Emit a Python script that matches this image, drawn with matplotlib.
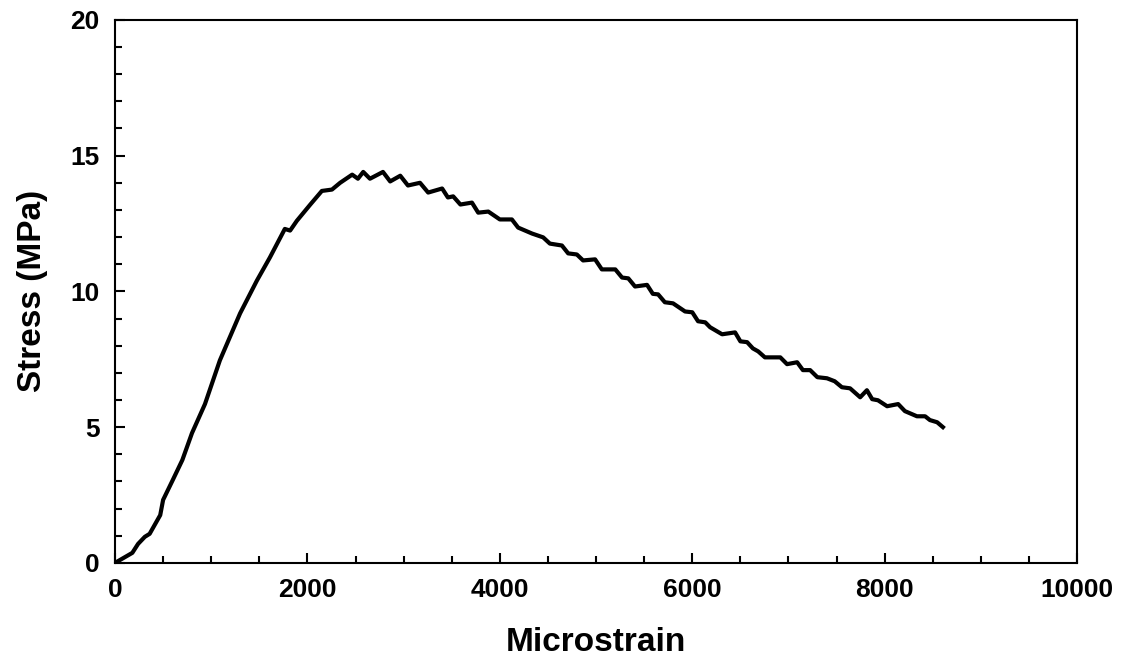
import matplotlib.pyplot as plt
from matplotlib.ticker import MultipleLocator

# Stress-strain data
strain = [0, 180, 240, 310, 360, 470, 500, 600, 700, 800, 935, 1090, 1300, 1475,
          1610, 1765, 1820, 1890, 2030, 2150, 2255, 2340, 2465, 2525, 2580, 2650,
          2785, 2860, 2965, 3045, 3170, 3255, 3400, 3460, 3515, 3590, 3710, 3775,
          3880, 4000, 4125, 4190, 4335, 4450, 4520, 4645, 4710, 4800, 4865, 4990,
          5060, 5200, 5270, 5335, 5405, 5530, 5590, 5645, 5715, 5800, 5925, 6000,
          6060, 6135, 6185, 6310, 6445, 6500, 6570, 6630, 6685, 6755, 6915, 6985,
          7090, 7150, 7225, 7300, 7400, 7480, 7555, 7640, 7745, 7815, 7870, 7930,
          8025, 8140, 8210, 8335, 8420, 8470, 8545, 8605]
stress = [0.0, 0.37, 0.70, 0.96, 1.07, 1.76, 2.32, 3.05, 3.79, 4.78, 5.85, 7.46,
          9.19, 10.4, 11.25, 12.3, 12.24, 12.6, 13.2, 13.7, 13.75, 14.0, 14.3,
          14.15, 14.4, 14.15, 14.4, 14.05, 14.26, 13.9, 14.0, 13.64, 13.79, 13.46,
          13.5, 13.2, 13.27, 12.9, 12.94, 12.65, 12.65, 12.35, 12.13, 11.99, 11.76,
          11.69, 11.4, 11.36, 11.14, 11.18, 10.81, 10.81, 10.51, 10.48, 10.18,
          10.24, 9.91, 9.89, 9.6, 9.56, 9.26, 9.23, 8.9, 8.86, 8.68, 8.42, 8.49,
          8.16, 8.13, 7.9, 7.79, 7.57, 7.57, 7.32, 7.39, 7.1, 7.1, 6.84, 6.8, 6.69,
          6.47, 6.43, 6.1, 6.36, 6.03, 5.99, 5.77, 5.85, 5.59, 5.4, 5.4, 5.26,
          5.18, 5.0]

plt.rcParams['font.family'] = ['Liberation Sans', 'DejaVu Sans']

fig = plt.figure(figsize=(11.22, 6.63), dpi=100)
ax = fig.add_axes([0.1025, 0.151, 0.8575, 0.819])

ax.plot(strain, stress, color='black', linewidth=3.0, solid_joinstyle='round')

ax.set_xlim(0, 10000)
ax.set_ylim(0, 20)
ax.xaxis.set_major_locator(MultipleLocator(2000))
ax.xaxis.set_minor_locator(MultipleLocator(500))
ax.yaxis.set_major_locator(MultipleLocator(5))
ax.yaxis.set_minor_locator(MultipleLocator(1))
ax.tick_params(which='both', direction='in', width=1.5)
ax.tick_params(which='major', length=7, labelsize=19)
ax.tick_params(axis='x', which='major', pad=11)
ax.tick_params(axis='y', which='major', pad=11)
ax.tick_params(which='minor', length=5)
for lab in ax.get_xticklabels() + ax.get_yticklabels():
    lab.set_fontweight('bold')
for s in ax.spines.values():
    s.set_linewidth(1.5)

ax.set_xlabel('Microstrain', fontsize=24, fontweight='bold', labelpad=18)
ax.set_ylabel('Stress (MPa)', fontsize=24, fontweight='bold', labelpad=16)

fig.savefig('out.png', dpi=100, facecolor='white')
